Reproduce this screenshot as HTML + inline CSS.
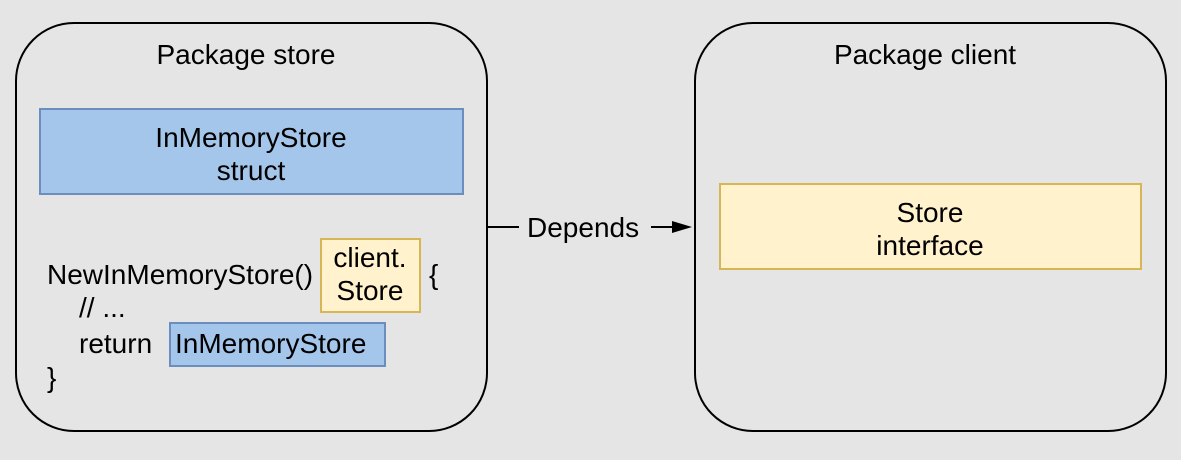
<!DOCTYPE html>
<html><head><style>html,body{margin:0;padding:0;background:#e5e5e5}</style></head>
<body>
<svg width="1181" height="455" xmlns="http://www.w3.org/2000/svg" font-family="Liberation Sans, Arial, sans-serif" font-size="28" fill="#000">
<rect x="0" y="0" width="1181" height="455" fill="#e5e5e5"/>
<rect x="16" y="23" width="471" height="408" rx="58" fill="none" stroke="#000" stroke-width="2"/>
<rect x="695" y="23" width="471" height="408" rx="58" fill="none" stroke="#000" stroke-width="2"/>
<text x="246" y="64" text-anchor="middle">Package store</text>
<text x="925" y="64" text-anchor="middle">Package client</text>
<rect x="40" y="109" width="423" height="85" fill="#a4c6ea" stroke="#6c8ebf" stroke-width="2"/>
<text x="251" y="147" text-anchor="middle">InMemoryStore</text>
<text x="251" y="180" text-anchor="middle">struct</text>
<rect x="720" y="184" width="421" height="85" fill="#fff2cc" stroke="#d6b656" stroke-width="2"/>
<text x="930" y="222" text-anchor="middle">Store</text>
<text x="930" y="255" text-anchor="middle">interface</text>
<line x1="488" y1="227" x2="519" y2="227" stroke="#000" stroke-width="2"/>
<text x="527" y="237">Depends</text>
<line x1="651" y1="227" x2="676" y2="227" stroke="#000" stroke-width="2"/>
<polygon points="692,227 672,221 672,233" fill="#000"/>
<text x="47" y="284">NewInMemoryStore()</text>
<rect x="321" y="239" width="99" height="73" fill="#fff2cc" stroke="#d6b656" stroke-width="2"/>
<text x="370" y="267" text-anchor="middle">client.</text>
<text x="370" y="300" text-anchor="middle">Store</text>
<text x="429" y="284">{</text>
<text x="79" y="317">// ...</text>
<text x="79" y="353">return</text>
<rect x="170" y="323" width="215" height="43" fill="#a4c6ea" stroke="#6c8ebf" stroke-width="2"/>
<text x="175" y="353">InMemoryStore</text>
<text x="47" y="387">}</text>
</svg>
</body></html>
